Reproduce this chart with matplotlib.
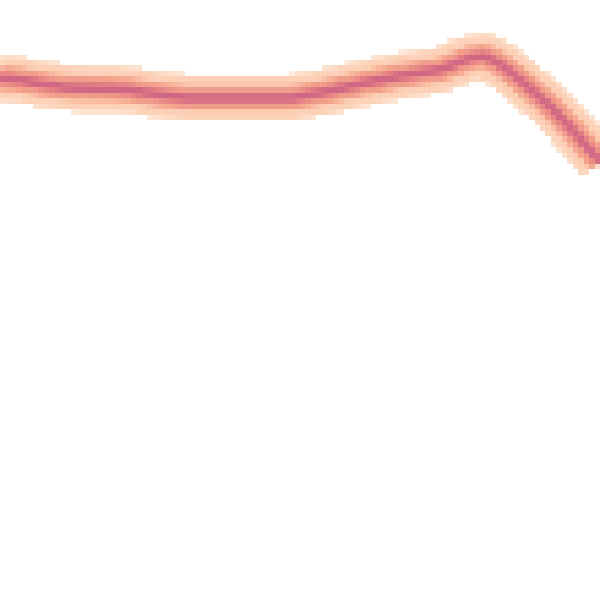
import numpy as np
import matplotlib
matplotlib.use('Agg')
import matplotlib.pyplot as plt
from matplotlib.colors import LinearSegmentedColormap

# centre of the trace (0..600 canvas units, y downwards)
line_x = [0, 20, 40, 70, 110, 130, 160, 190, 230, 290, 320, 360, 400, 440,
          455, 470, 485, 500, 520, 550, 575, 600]
line_y = [78, 80, 84, 88, 89, 90, 95, 98, 98, 98, 93, 84, 76, 70,
          64, 58, 56, 64, 80, 106, 133, 162]

# grid resolution of the density image
n_cells = 110
extent = 600.0

# colours of the density map, light to dark
cmap_colors = ['#ffffff', '#fee6d4', '#fccbb0', '#f5a48d', '#e37d84', '#c65d86']
cmap_stops = [0.0, 0.04, 0.3, 0.52, 0.75, 1.0]


def rasterize(xs, ys, n):
    # draw the trace on a tiny canvas, one pixel per cell, and read it back
    f = plt.figure(figsize=(n / 100.0, n / 100.0), dpi=100)
    ax = f.add_axes([0, 0, 1, 1])
    ax.set_xlim(0, extent)
    ax.set_ylim(extent, 0)
    ax.axis('off')
    px = 0.72  # one cell in points
    for lw, a in [(8.0, 0.16), (4.4, 0.26), (1.6, 0.38)]:
        ax.plot(xs, ys, color='black', lw=lw * px, alpha=a,
                solid_capstyle='butt', solid_joinstyle='round')
    f.canvas.draw()
    img = np.asarray(f.canvas.buffer_rgba())[:, :, 0].astype(float)
    plt.close(f)
    return 1.0 - img / 255.0


density = rasterize(line_x, line_y, n_cells)

cmap = LinearSegmentedColormap.from_list('trace', list(zip(cmap_stops, cmap_colors)))
density = np.ma.masked_less(density, 0.02)
cmap.set_bad('white')

fig = plt.figure(figsize=(6, 6), dpi=100)
ax = fig.add_axes([0, 0, 1, 1])
ax.imshow(density, cmap=cmap, vmin=0, vmax=0.68, interpolation='nearest', aspect='auto')
ax.axis('off')
fig.savefig('out.png', dpi=100, facecolor='white')
